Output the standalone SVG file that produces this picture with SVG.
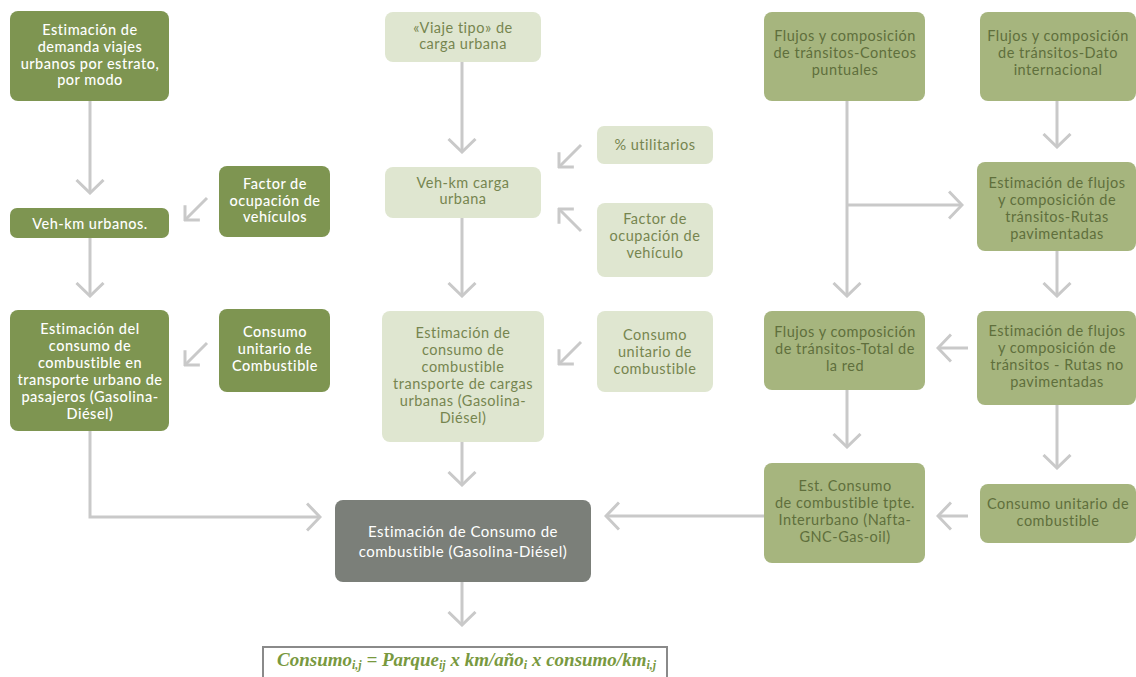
<svg xmlns="http://www.w3.org/2000/svg" width="1136" height="677" viewBox="0 0 1136 677">
<defs>
<style>
.dk rect{fill:#7e9551}
.dk text{fill:#ffffff;font-weight:500}
.lt rect{fill:#dfe6d0}
.lt text{fill:#76854f}
.md rect{fill:#a6b57e}
.md text{fill:#5f6f3c}
.gr rect{fill:#7b7f79}
.gr text{fill:#ffffff;font-size:15px}
text{font-family:Lato,"Noto Sans","Liberation Sans",sans-serif;font-size:14.5px;letter-spacing:0.5px;text-anchor:middle}
.cn path{fill:none;stroke:#c9c9c9;stroke-width:3}
.fm{font-family:"Liberation Serif","DejaVu Serif",serif;font-weight:bold;font-style:italic;font-size:19px;letter-spacing:0;fill:#79993f;text-anchor:start}
</style>
<marker id="ab" viewBox="0 0 16 30" refX="14" refY="15" markerWidth="16" markerHeight="30" markerUnits="userSpaceOnUse" orient="auto">
<path d="M1,1.5 L14,15 L1,28.5" fill="none" stroke="#c9c9c9" stroke-width="3"/>
</marker>
<marker id="as" viewBox="0 0 14 24" refX="12" refY="12" markerWidth="14" markerHeight="24" markerUnits="userSpaceOnUse" orient="auto">
<path d="M1.5,1.5 L12,12 L1.5,22.5" fill="none" stroke="#c9c9c9" stroke-width="3"/>
</marker>
</defs>
<rect width="1136" height="677" fill="#ffffff"/>

<g id="connectors" class="cn">
<path d="M90,101 V193" marker-end="url(#ab)"/>
<path d="M90,238 V296" marker-end="url(#ab)"/>
<path d="M90,431 V517 H320" marker-end="url(#ab)"/>
<path d="M207,198 L185,220" marker-end="url(#as)"/>
<path d="M207,343 L185,365" marker-end="url(#as)"/>
<path d="M462,62 V152" marker-end="url(#ab)"/>
<path d="M462,218 V296" marker-end="url(#ab)"/>
<path d="M462,442 V485" marker-end="url(#ab)"/>
<path d="M462,582 V625" marker-end="url(#ab)"/>
<path d="M581,145 L559,167" marker-end="url(#as)"/>
<path d="M581,231 L559,209" marker-end="url(#as)"/>
<path d="M581,342 L559,364" marker-end="url(#as)"/>
<path d="M847,101 V296" marker-end="url(#ab)"/>
<path d="M847,205 H962" marker-end="url(#ab)"/>
<path d="M1057,101 V147" marker-end="url(#ab)"/>
<path d="M1057,251 V296" marker-end="url(#ab)"/>
<path d="M968,348 H938" marker-end="url(#ab)"/>
<path d="M847,390 V447" marker-end="url(#ab)"/>
<path d="M1057,405 V468" marker-end="url(#ab)"/>
<path d="M968,516 H938" marker-end="url(#ab)"/>
<path d="M764,516 H606" marker-end="url(#ab)"/>
</g>

<g id="n-demanda" class="dk">
<rect x="10" y="11" width="159" height="90" rx="8"/>
<text x="90" y="35">Estimación de</text>
<text x="90" y="52">demanda viajes</text>
<text x="90" y="68.5">urbanos por estrato,</text>
<text x="90" y="85">por modo</text>
</g>
<g id="n-vehkm-urb" class="dk">
<rect x="10" y="208" width="159" height="30" rx="7"/>
<text x="90" y="228.5">Veh-km urbanos.</text>
</g>
<g id="n-factor-veh" class="dk">
<rect x="219" y="166" width="111" height="71" rx="8"/>
<text x="275" y="189">Factor de</text>
<text x="275" y="205.5">ocupación de</text>
<text x="275" y="222">vehículos</text>
</g>
<g id="n-est-urb" class="dk">
<rect x="10" y="310" width="159" height="121" rx="8"/>
<text x="90" y="334">Estimación del</text>
<text x="90" y="351">consumo de</text>
<text x="90" y="368">combustible en</text>
<text x="90" y="385">transporte urbano de</text>
<text x="90" y="402">pasajeros (Gasolina-</text>
<text x="90" y="419">Diésel)</text>
</g>
<g id="n-cons-unit-1" class="dk">
<rect x="219" y="309" width="111" height="83" rx="8"/>
<text x="275" y="337">Consumo</text>
<text x="275" y="354">unitario de</text>
<text x="275" y="371">Combustible</text>
</g>

<g id="n-viaje-tipo" class="lt">
<rect x="385" y="12" width="156" height="50" rx="8"/>
<text x="463" y="33">«Viaje tipo» de</text>
<text x="463" y="49">carga urbana</text>
</g>
<g id="n-vehkm-carga" class="lt">
<rect x="385" y="167" width="156" height="51" rx="8"/>
<text x="463" y="188">Veh-km carga</text>
<text x="463" y="204">urbana</text>
</g>
<g id="n-utilitarios" class="lt">
<rect x="597" y="126" width="116" height="38" rx="7"/>
<text x="655" y="150">% utilitarios</text>
</g>
<g id="n-factor-veh2" class="lt">
<rect x="597" y="203" width="116" height="74" rx="8"/>
<text x="655" y="224">Factor de</text>
<text x="655" y="241">ocupación de</text>
<text x="655" y="258">vehículo</text>
</g>
<g id="n-est-carga" class="lt">
<rect x="382" y="311" width="162" height="131" rx="8"/>
<text x="463" y="338">Estimación de</text>
<text x="463" y="355">consumo de</text>
<text x="463" y="372">combustible</text>
<text x="463" y="389">transporte de cargas</text>
<text x="463" y="406">urbanas (Gasolina-</text>
<text x="463" y="423">Diésel)</text>
</g>
<g id="n-cons-unit-2" class="lt">
<rect x="597" y="311" width="116" height="81" rx="8"/>
<text x="655" y="340">Consumo</text>
<text x="655" y="357">unitario de</text>
<text x="655" y="374">combustible</text>
</g>

<g id="n-conteos" class="md">
<rect x="764" y="12" width="161" height="89" rx="8"/>
<text x="845" y="41">Flujos y composición</text>
<text x="845" y="58">de tránsitos-Conteos</text>
<text x="845" y="75">puntuales</text>
</g>
<g id="n-dato" class="md">
<rect x="980" y="12" width="156" height="89" rx="8"/>
<text x="1058" y="41">Flujos y composición</text>
<text x="1058" y="58">de tránsitos-Dato</text>
<text x="1058" y="75">internacional</text>
</g>
<g id="n-rutas-pav" class="md">
<rect x="977" y="162" width="159" height="89" rx="8"/>
<text x="1057" y="188">Estimación de flujos</text>
<text x="1057" y="205">y composición de</text>
<text x="1057" y="222">tránsitos-Rutas</text>
<text x="1057" y="239">pavimentadas</text>
</g>
<g id="n-total-red" class="md">
<rect x="764" y="311" width="161" height="79" rx="8"/>
<text x="845" y="337">Flujos y composición</text>
<text x="845" y="354">de tránsitos-Total de</text>
<text x="845" y="371">la red</text>
</g>
<g id="n-rutas-nopav" class="md">
<rect x="977" y="311" width="159" height="94" rx="8"/>
<text x="1057" y="336">Estimación de flujos</text>
<text x="1057" y="353">y composición de</text>
<text x="1057" y="370">tránsitos - Rutas no</text>
<text x="1057" y="387">pavimentadas</text>
</g>
<g id="n-est-interurb" class="md">
<rect x="764" y="463" width="161" height="100" rx="8"/>
<text x="845" y="491">Est. Consumo</text>
<text x="845" y="508">de combustible tpte.</text>
<text x="845" y="525">Interurbano (Nafta-</text>
<text x="845" y="542">GNC-Gas-oil)</text>
</g>
<g id="n-cons-unit-3" class="md">
<rect x="980" y="484" width="156" height="59" rx="8"/>
<text x="1058" y="509">Consumo unitario de</text>
<text x="1058" y="526">combustible</text>
</g>

<g id="n-central" class="gr">
<rect x="335" y="500" width="256" height="82" rx="8"/>
<text x="463" y="537">Estimación de Consumo de</text>
<text x="463" y="557">combustible (Gasolina-Diésel)</text>
</g>

<g id="n-formula">
<rect x="263" y="647" width="404" height="40" fill="#ffffff" stroke="#8a8a8a" stroke-width="2"/>
<text class="fm" x="277" y="666">Consumo<tspan font-size="12" dy="3">i,j</tspan><tspan dy="-3"> = Parque</tspan><tspan font-size="12" dy="3">ij</tspan><tspan dy="-3"> x km/año</tspan><tspan font-size="12" dy="3">i</tspan><tspan dy="-3"> x consumo/km</tspan><tspan font-size="12" dy="3">i,j</tspan></text>
</g>
</svg>
